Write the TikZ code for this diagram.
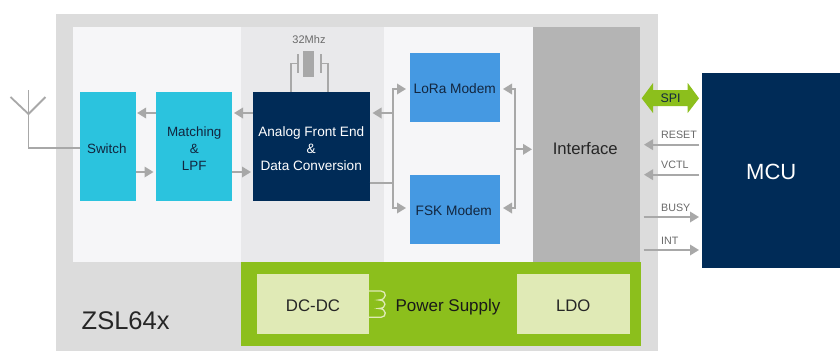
\documentclass[tikz,border=0pt]{standalone}
\usepackage{fontspec}
\setmainfont{Liberation Sans}
\usetikzlibrary{arrows.meta,calc}
\definecolor{outerg}{HTML}{DCDCDC}
\definecolor{panel}{HTML}{F6F6F8}
\definecolor{midg}{HTML}{E9E9EB}
\definecolor{ifg}{HTML}{B4B4B4}
\definecolor{cyanb}{HTML}{2BC3DE}
\definecolor{navy}{HTML}{002B57}
\definecolor{modem}{HTML}{4599E2}
\definecolor{leaf}{HTML}{8CBF1C}
\definecolor{pale}{HTML}{E0EAB6}
\definecolor{wire}{HTML}{A8A8A8}
\definecolor{ink}{HTML}{12263F}
\definecolor{graytxt}{HTML}{6A6A6A}
\tikzset{
  box/.style={inner sep=0pt,outer sep=0pt,draw=none,align=center,text=ink},
  fs/.style={font=\fontsize{#1}{17}\selectfont},
  wireline/.style={draw=wire,line width=1.8pt},
  arr/.style={wireline,-{Triangle[length=9pt,width=10.5pt]}},
  darr/.style={wireline,{Triangle[length=9pt,width=10.5pt]}-{Triangle[length=9pt,width=10.5pt]}},
  siglabel/.style={inner sep=0pt,anchor=west,text=graytxt,font=\fontsize{10.7}{12}\selectfont},
}
% name, x1, y1, x2, y2, style
\newcommand{\pbox}[6]{\node[box,minimum width=#4pt-#2pt,minimum height=#5pt-#3pt,#6] (#1) at ({(#2+#4)/2},{(#3+#5)/2}) {};}
% owner, dx, dy, style, text
\newcommand{\ptext}[5]{\node[box,#4] (#1text) at ($(#1.center)+(#2,#3)$) {#5};}
\begin{document}
\begin{tikzpicture}[x=1pt,y=-1pt]
\useasboundingbox (0,0) rectangle (840,351);
\fill[white] (0,0) rectangle (840,351);
\pbox{chip}{56}{14}{658}{351}{fill=outerg}
\pbox{rfpanel}{73}{27}{241}{262}{fill=panel}
\pbox{midpanel}{241}{27}{384}{262}{fill=midg}
\pbox{modpanel}{384}{27}{533}{262}{fill=panel}
\pbox{iface}{533}{27}{639.5}{262}{fill=ifg}
\ptext{iface}{-1}{4.5}{fs=16.7,text=black!85}{Interface}
\pbox{switch}{80}{92}{135.6}{201}{fill=cyanb}
\ptext{switch}{-1}{2}{fs=13.4}{Switch}
\pbox{match}{155.5}{92}{232}{201}{fill=cyanb}
\ptext{match}{0.5}{2}{fs=13.4}{Matching\\\&\\LPF}
\pbox{afe}{253}{92}{369.5}{201}{fill=navy}
\ptext{afe}{0}{2}{fs=13.6,text=white}{Analog Front End\\\&\\Data Conversion}
\pbox{lora}{409.5}{53}{500}{121.5}{fill=modem}
\ptext{lora}{0}{1.5}{fs=13.7}{LoRa Modem}
\pbox{fsk}{409.5}{175}{500}{243.5}{fill=modem}
\ptext{fsk}{-1}{1.5}{fs=13.7}{FSK Modem}
\pbox{mcu}{701.5}{73}{840}{267.5}{fill=navy}
\ptext{mcu}{0.5}{1.5}{fs=22,text=white}{MCU}
\pbox{power}{240.5}{262}{640.5}{346}{fill=leaf}
\pbox{dcdc}{257}{273.5}{369}{334}{fill=pale}
\ptext{dcdc}{0}{1.5}{fs=16.8,text=black!85}{DC-DC}
\pbox{ldo}{517}{273.5}{629.5}{334}{fill=pale}
\ptext{ldo}{0}{1.5}{fs=16.7,text=black!85}{LDO}
\node[inner sep=0pt,fs=17,text=black!90] (powerlbl) at (448,307) {Power Supply};
\node[inner sep=0pt,anchor=west,fs=25.5,text=black!85] (chipname) at (81.5,320.5) {ZSL64x};
% antenna
\coordinate (anttop) at (28.5,90);
\coordinate (antj) at (28.5,114);
\coordinate (antl) at (10.5,97);
\coordinate (antr) at (45.5,97);
\draw[wireline] (antl) -- (antj) -- (antr);
\draw[wireline] (anttop) -- (antj) |- (switch.west |- 0,147.7);
% RF arrows
\draw[arr,shorten >=1.5pt] (match.west |- 0,113) -- (switch.east |- 0,113);
\draw[arr,shorten >=2pt] (switch.east |- 0,172) -- (match.west |- 0,172);
\draw[arr,shorten >=2pt] (afe.west |- 0,113) -- (match.east |- 0,113);
\draw[arr,shorten >=2pt] (match.east |- 0,172) -- (afe.west |- 0,172);
% crystal
\node[box,fill=wire,minimum width=11.6pt,minimum height=26.6pt] (xtal) at (308.5,64) {};
\node[text=graytxt,inner sep=0pt,font=\fontsize{11}{12}\selectfont] (xlbl) at (309,39.5) {32Mhz};
\coordinate (pl1) at (298.3,54); \coordinate (pl2) at (298.3,73);
\coordinate (pr1) at (321,54); \coordinate (pr2) at (321,73);
\draw[wireline] (pl1) -- (pl2);
\draw[wireline] (pr1) -- (pr2);
\draw[wireline] (298.3,63.5) -| (afe.north -| 290.7,0);
\draw[wireline] (321,63.5) -| (afe.north -| 328,0);
% modem bus
\coordinate (busl) at (393,148);
\coordinate (busr) at (515,148);
\draw[arr,shorten >=3pt] (busl |- 0,113) -- (afe.east |- 0,113);
\draw[wireline] (afe.east |- 0,183) -- (busl |- 0,183);
\draw[arr,shorten >=3.5pt] (busl |- 0,113) |- (lora.west |- 0,89);
\draw[arr,shorten >=3.5pt] (busl |- 0,113) |- (fsk.west |- 0,208);
\draw[darr,shorten >=3pt,shorten <=3pt] (lora.east |- 0,89) -| (busr) |- (fsk.east |- 0,208);
\draw[arr,shorten >=1pt] (busr |- 0,149.3) -- (iface.west |- 0,149.3);
% SPI
\fill[leaf] (641.7,98.3) -- (653,83) -- (653,90) -- (687.7,90) -- (687.7,83) -- (699,98.3) -- (687.7,113) -- (687.7,106) -- (653,106) -- (653,113) -- cycle;
\node[inner sep=0pt,text=ink,font=\fontsize{12.4}{14}\selectfont] (spi) at (670.5,98) {SPI};
% signals
\draw[arr,shorten <=2.5pt,shorten >=4.5pt] (mcu.west |- 0,144.7) -- (iface.east |- 0,144.7);
\draw[arr,shorten <=2.5pt,shorten >=4.5pt] (mcu.west |- 0,174.7) -- (iface.east |- 0,174.7);
\draw[arr,shorten <=4pt,shorten >=2.5pt] (iface.east |- 0,217) -- (mcu.west |- 0,217);
\draw[arr,shorten <=4pt,shorten >=2.5pt] (iface.east |- 0,250) -- (mcu.west |- 0,250);
\node[siglabel] (reset) at (661,134.7) {RESET};
\node[siglabel] (vctl) at (661,165.2) {VCTL};
\node[siglabel] (busy) at (661,207.7) {BUSY};
\node[siglabel] (int) at (661,240.7) {INT};
% inductor
\draw[draw=pale,line width=1.3pt] (dcdc.east |- 0,291) -- (381,291)
  .. controls (387,291) and (387,300) .. (379,300)
  .. controls (387,300) and (387,308.5) .. (379,308.5)
  .. controls (387,308.5) and (387,317.3) .. (381,317.3) -- (dcdc.east |- 0,317.3);
\end{tikzpicture}
\end{document}
